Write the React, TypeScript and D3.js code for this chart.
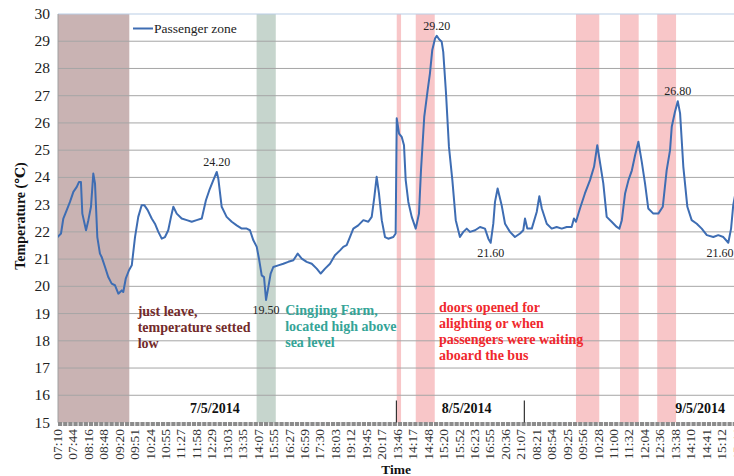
import React from 'react';
import * as d3 from 'd3';

const timeLabels = ["07:10","07:44","08:16","08:48","09:20","09:51","10:24","10:55","11:27","11:58","12:29","13:03","13:35","14:07","15:55","16:27","16:59","17:30","18:03","19:12","19:45","20:17","13:46","14:17","14:48","15:20","15:52","16:23","16:55","20:36","21:07","08:21","08:54","09:25","09:56","10:28","11:00","11:32","12:04","12:36","13:38","14:10","14:41","15:12","15:44"];

const yTicks = [15,16,17,18,19,20,21,22,23,24,25,26,27,28,29,30];

// [position in label steps, temperature]
const passengerZone: [number, number][] = [
  [0.0,21.8],[0.24,21.94],[0.39,22.49],[0.61,22.8],[0.82,23.1],[1.04,23.47],[1.26,23.65],[1.4,23.83],[1.53,23.83],
  [1.62,22.67],[1.86,22.06],[2.01,22.43],[2.18,22.92],[2.33,24.14],[2.44,23.78],[2.59,21.81],[2.76,21.2],[2.87,21.08],
  [3.09,20.71],[3.3,20.34],[3.52,20.1],[3.73,20.04],[3.95,19.73],[4.17,19.85],[4.27,19.79],[4.43,20.28],[4.64,20.59],
  [4.82,20.77],[5.03,21.81],[5.24,22.55],[5.46,22.98],[5.63,22.98],[5.85,22.8],[6.11,22.49],[6.32,22.3],[6.54,22.0],
  [6.76,21.75],[6.97,21.81],[7.18,22.06],[7.36,22.55],[7.51,22.92],[7.73,22.67],[8.05,22.49],[8.38,22.43],[8.7,22.37],
  [9.02,22.43],[9.35,22.49],[9.62,23.16],[9.84,23.53],[10.1,23.9],[10.32,24.2],[10.42,23.96],[10.64,22.92],[10.96,22.55],
  [11.29,22.37],[11.61,22.24],[11.94,22.12],[12.26,22.12],[12.47,22.06],[12.69,21.69],[12.91,21.45],[13.07,20.96],
  [13.23,20.4],[13.38,20.34],[13.51,19.5],[13.66,19.97],[13.81,20.47],[13.98,20.71],[14.3,20.77],[14.63,20.83],
  [14.95,20.9],[15.28,20.96],[15.56,21.2],[15.82,21.02],[16.14,20.9],[16.47,20.83],[16.79,20.65],[17.05,20.47],
  [17.33,20.65],[17.65,20.83],[17.97,21.14],[18.3,21.32],[18.51,21.45],[18.73,21.51],[18.94,21.81],[19.16,22.12],
  [19.48,22.24],[19.81,22.43],[20.13,22.37],[20.35,22.55],[20.52,23.28],[20.67,24.02],[20.82,23.41],[21.0,22.43],
  [21.21,21.81],[21.42,21.75],[21.75,21.81],[21.9,21.94],[21.97,26.17],[22.12,25.61],[22.29,25.49],[22.44,25.18],
  [22.55,23.9],[22.72,23.1],[22.94,22.55],[23.2,22.12],[23.41,22.67],[23.54,24.26],[23.75,26.22],[23.97,27.2],
  [24.12,27.82],[24.27,28.68],[24.45,29.1],[24.56,29.2],[24.71,29.07],[24.88,28.98],[24.98,28.61],[25.16,27.08],
  [25.35,25.12],[25.57,23.9],[25.79,22.43],[26.06,21.81],[26.28,22.0],[26.5,22.12],[26.71,22.0],[27.04,22.06],
  [27.36,22.18],[27.68,22.12],[27.9,21.75],[28.05,21.6],[28.22,22.3],[28.33,23.1],[28.5,23.59],[28.76,22.98],
  [28.98,22.3],[29.3,22.0],[29.62,21.81],[29.95,21.94],[30.16,22.06],[30.27,22.49],[30.42,22.12],[30.71,22.12],
  [31.03,22.73],[31.2,23.31],[31.36,22.86],[31.68,22.3],[32.0,22.12],[32.32,22.18],[32.65,22.12],[32.97,22.18],
  [33.29,22.18],[33.44,22.49],[33.57,22.37],[33.83,22.86],[34.15,23.41],[34.48,23.9],[34.74,24.39],[34.95,25.18],
  [35.17,24.39],[35.34,23.78],[35.56,22.55],[35.88,22.37],[36.21,22.18],[36.38,22.12],[36.54,22.43],[36.75,23.41],
  [36.97,23.9],[37.19,24.26],[37.4,24.82],[37.61,25.31],[37.83,24.57],[38.04,23.78],[38.25,22.86],[38.58,22.67],
  [38.9,22.67],[39.19,22.92],[39.44,24.26],[39.66,25.0],[39.77,25.86],[39.98,26.41],[40.16,26.8],[40.31,26.35],
  [40.52,24.39],[40.78,22.92],[41.06,22.43],[41.39,22.3],[41.71,22.12],[42.04,21.88],[42.46,21.81],[42.78,21.88],
  [43.11,21.81],[43.43,21.6],[43.61,22.12],[43.75,22.98],[43.95,23.6]
];

const shadeBands: { from: number; to: number; kind: string }[] = [
  { from: 0, to: 4.66, kind: 'leave' },
  { from: 12.9, to: 14.14, kind: 'farm' },
  { from: 21.97, to: 22.25, kind: 'door' },
  { from: 23.2, to: 24.43, kind: 'door' },
  { from: 33.57, to: 35.08, kind: 'door' },
  { from: 36.42, to: 37.63, kind: 'door' },
  { from: 38.83, to: 40.05, kind: 'door' },
];
const shadeColors: Record<string, string> = { leave: '#c9b3b3', farm: '#c6d5cd', door: '#f8c6c8' };

const peakLabels: { pos: number; value: number; text: string; above: boolean }[] = [
  { pos: 10.32, value: 24.2, text: '24.20', above: true },
  { pos: 13.51, value: 19.5, text: '19.50', above: false },
  { pos: 24.56, value: 29.2, text: '29.20', above: true },
  { pos: 40.16, value: 26.8, text: '26.80', above: true },
  { pos: 28.05, value: 21.6, text: '21.60', above: false },
  { pos: 42.9, value: 21.6, text: '21.60', above: false },
];

const dateLabels: { pos: number; text: string }[] = [
  { pos: 10.2, text: '7/5/2014' },
  { pos: 26.5, text: '8/5/2014' },
  { pos: 41.6, text: '9/5/2014' },
];
const daySeparators = [21.95, 30.23];

const notes: { pos: number; value: number; lines: string[]; color: string }[] = [
  { pos: 5.2, value: 18.9, lines: ['just leave,', 'temperature setted', 'low'], color: '#732b2b' },
  { pos: 14.75, value: 18.95, lines: ['Cingjing Farm,', 'located high above', 'sea level'], color: '#35a497' },
  { pos: 24.7, value: 19.05, lines: ['doors opened for', 'alighting or when', 'passengers were waiting', 'aboard the bus'], color: '#f0282d' },
];

const W = 734, H = 476;
const serif = 'Liberation Serif, DejaVu Serif, Noto Serif, serif';

export default function App() {
  const x = d3.scaleLinear().domain([0, 44]).range([57.3, 57.3 + 44 * 15.45]);
  const y = d3.scaleLinear().domain([15, 30]).range([422.5, 14]);
  const line = d3.line<[number, number]>().x(d => x(d[0])).y(d => y(d[1]));
  const left = 58, right = W;
  const tf = { fontFamily: serif };

  return (
    <svg width={W} height={H} style={{ position: 'absolute', left: 0, top: 0, background: '#fff', fontFamily: serif }}>
      <defs>
        <clipPath id="plot"><rect x={left} y={0} width={right - left} height={y(15)} /></clipPath>
      </defs>
      {shadeBands.map((b, i) => (
        <rect key={i} x={Math.max(left, x(b.from))} y={y(30)} width={x(b.to) - Math.max(left, x(b.from))}
          height={y(15) - y(30)} fill={shadeColors[b.kind]} />
      ))}
      {yTicks.filter(t => t > 15 && t < 30).map(t => (
        <line key={t} x1={left} x2={right} y1={y(t)} y2={y(t)} stroke="#a6a6a6" strokeWidth={1} />
      ))}
      <line x1={left} x2={right} y1={y(30)} y2={y(30)} stroke="#b9cde5" strokeWidth={1.2} />
      <line x1={left} x2={left} y1={y(30)} y2={y(15)} stroke="#a0a0a0" strokeWidth={1} />
      {yTicks.map(t => (
        <text key={t} style={tf} x={50} y={y(t) + 5} textAnchor="end" fontSize={15.5} fill="#222">{t}</text>
      ))}
      <path d={line(passengerZone) || ''} fill="none" stroke="#3e6db3" strokeWidth={2} strokeLinejoin="round" clipPath="url(#plot)" />
      <line x1={left} x2={right} y1={y(15) + 1.5} y2={y(15) + 1.5} stroke="#8c8c8c" strokeWidth={4} strokeDasharray="4.2 0.95" />
      {daySeparators.map((p, i) => (
        <line key={i} x1={x(p)} x2={x(p)} y1={400.5} y2={y(15)} stroke="#333" strokeWidth={1.2} />
      ))}
      {dateLabels.map((d, i) => (
        <text key={i} style={tf} x={x(d.pos)} y={413} textAnchor="middle" fontSize={14} fontWeight="bold" fill="#111">{d.text}</text>
      ))}
      {timeLabels.map((l, i) => (
        <text key={i} style={tf} transform={`translate(${x(i) + 4.5},429) rotate(-90)`} textAnchor="end" fontSize={13.5} fill="#333">{l}</text>
      ))}
      {peakLabels.map((p, i) => (
        <text key={i} style={tf} x={x(p.pos)} y={p.above ? y(p.value) - 6 : y(p.value) + 14} textAnchor="middle" fontSize={12} fill="#222">{p.text}</text>
      ))}
      {notes.map((n, i) => (
        <text key={i} style={tf} x={x(n.pos)} y={y(n.value)} fontSize={14} fontWeight="bold" fill={n.color}>
          {n.lines.map((s, j) => (
            <tspan key={j} x={x(n.pos)} dy={j === 0 ? 0 : 16}>{s}</tspan>
          ))}
        </text>
      ))}
      <line x1={133} x2={153} y1={28.5} y2={28.5} stroke="#3e6db3" strokeWidth={2} />
      <text style={tf} x={154} y={33} fontSize={13.5} fill="#222">Passenger zone</text>
      <text style={tf} transform="translate(25,216) rotate(-90)" textAnchor="middle" fontSize={14} fontWeight="bold" fill="#111">Temperature (℃)</text>
      <text style={tf} x={396} y={474} textAnchor="middle" fontSize={13.5} fontWeight="bold" fill="#111">Time</text>
    </svg>
  );
}
